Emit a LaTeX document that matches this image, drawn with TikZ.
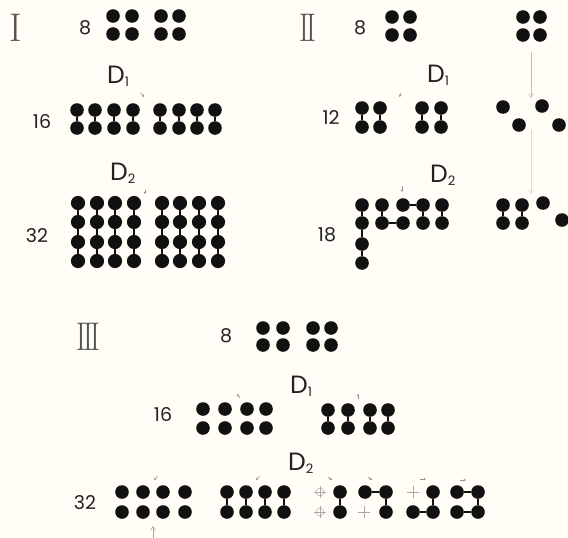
\documentclass[tikz,border=0pt]{standalone}
\usepackage{fontspec}
\newfontfamily\pop{Poppins}
\usetikzlibrary{arrows.meta}
\definecolor{bg}{HTML}{FFFDF6}
\definecolor{ink}{HTML}{111111}
\definecolor{txt}{HTML}{222222}
\definecolor{rom}{HTML}{555555}
\definecolor{faint}{HTML}{A8A8A8}
\tikzset{
 dot/.style={circle,fill=ink,inner sep=0pt,minimum size=13.6pt},
 link/.style={draw=ink,line width=1.6pt},
 num/.style={font=\pop\fontsize{19}{19}\selectfont,text=txt,inner sep=0pt},
 dlab/.style={font=\pop\fontsize{25}{25}\selectfont,text=txt,inner sep=0pt,anchor=base west},
 rnum/.style={font=\fontsize{40}{40}\selectfont,text=rom,inner sep=0pt},
 tk/.style={draw=gray!85,line width=0.6pt,-{Stealth[length=2.5pt,width=2.5pt]}},
 flow/.style={draw=gray!50,line width=0.6pt,-{Straight Barb[length=4pt,width=5pt]}},
 ghost/.style={circle,draw=faint,line width=0.5pt,inner sep=0pt,minimum size=8pt},
 ghostline/.style={draw=faint,line width=0.5pt},
}
\newcommand{\Dlab}[1]{D\raisebox{-3pt}{\fontsize{13}{13}\selectfont#1}}
\begin{document}
\begin{tikzpicture}[x={(1pt,0)},y={(0,-1pt)}]
\fill[bg] (0,0) rectangle (568,538);
\useasboundingbox (0,0) rectangle (568,538);

% ---------------- Part I ----------------
\node[rnum] (romI) at (16,28) {\scalebox{0.95}[1]{I}};
\node[num] (nI8) at (85,28) {8};
\foreach \x [count=\i] in {113,132,161,179}{
  \node[dot] (Ia\i) at (\x,16) {};
  \node[dot] (Ib\i) at (\x,34) {};
}
\node[dlab] (dI1) at (107,83) {\Dlab{1}};
\coordinate (tI1s) at (140.5,92.5); \coordinate (tI1e) at (144,97);
\draw[tk] (tI1s) -- (tI1e);
\node[num] (nI16) at (42,122) {16};
\foreach \x [count=\i] in {77,95,114,133,160,179,197,215}{
  \node[dot] (Ic\i) at (\x,110) {};
  \node[dot] (Id\i) at (\x,128) {};
  \draw[link] (Ic\i) -- (Id\i);
}
\node[dlab] (dI2) at (110,180) {\Dlab{2}};
\coordinate (tI2s) at (145,190); \coordinate (tI2e) at (145,194);
\draw[tk] (tI2s) -- (tI2e);
\node[num] (nI32) at (37,236) {32};
\foreach \x [count=\i] in {78,97,115,134,162,180,199,218}{
  \node[dot,minimum size=14.2pt] (Ie\i) at (\x,203) {};
  \node[dot,minimum size=14.2pt] (If\i) at (\x,222) {};
  \node[dot,minimum size=14.2pt] (Ig\i) at (\x,242) {};
  \node[dot,minimum size=14.2pt] (Ih\i) at (\x,261) {};
  \draw[link] (Ie\i) -- (If\i) (If\i) -- (Ig\i) (Ig\i) -- (Ih\i);
}

% ---------------- Part II ----------------
\node[rnum] (romII) at (308,28) {\scalebox{0.75}[1]{I\kern-3.7pt I}};
\node[num] (nII8) at (360,28) {8};
\foreach \x [count=\i] in {392,410}{
  \node[dot] (IIa\i) at (\x,17) {};
  \node[dot] (IIb\i) at (\x,35) {};
}
\foreach \x [count=\i] in {523,540}{
  \node[dot] (IIra\i) at (\x,17) {};
  \node[dot] (IIrb\i) at (\x,35) {};
}
\node[dlab] (dII1) at (427,82) {\Dlab{1}};
\coordinate (tII1s) at (401,93); \coordinate (tII1e) at (399.5,97);
\draw[tk] (tII1s) -- (tII1e);
\coordinate (fII1s) at (531,52); \coordinate (fII1e) at (531,98);
\draw[flow] (fII1s) -- (fII1e);
\node[num] (nII12) at (331,118) {12};
\foreach \x [count=\i] in {362,380,422,441}{
  \node[dot] (IIc\i) at (\x,108) {};
  \node[dot] (IId\i) at (\x,127) {};
  \draw[link] (IIc\i) -- (IId\i);
}
\node[dot] (IIz1) at (503,107) {};
\node[dot] (IIz2) at (519,125) {};
\node[dot] (IIz3) at (542,106) {};
\node[dot] (IIz4) at (559,125) {};
\node[dlab] (dII2) at (430,182) {\Dlab{2}};
\coordinate (tII2s) at (402,186); \coordinate (tII2e) at (402,192);
\draw[tk] (tII2s) -- (tII2e);
\coordinate (fII2s) at (531,130); \coordinate (fII2e) at (531,194);
\draw[flow,draw=gray!30] (fII2s) -- (fII2e);
\node[num] (nII18) at (327,235) {18};
\foreach \x [count=\i] in {362,382,403,423,442}{
  \node[dot] (IIe\i) at (\x,205) {};
  \node[dot] (IIf\i) at (\x,223) {};
}
\node[dot] (IIg1) at (362,244) {};
\node[dot] (IIh1) at (362,263) {};
\draw[link] (IIe1) -- (IIf1) (IIf1) -- (IIg1) (IIg1) -- (IIh1);
\draw[link] (IIe2) -- (IIf2) (IIf2) -- (IIf3);
\draw[link] (IIe3) -- (IIe4) (IIe4) -- (IIf4);
\draw[link] (IIe5) -- (IIf5);
\node[dot] (IIk1) at (503,205) {};
\node[dot] (IIk2) at (522,205) {};
\node[dot] (IIk3) at (543,203) {};
\node[dot] (IIl1) at (503,223) {};
\node[dot] (IIl2) at (522,223) {};
\node[dot] (IIl3) at (562,220) {};
\draw[link] (IIk1) -- (IIl1) (IIk2) -- (IIl2);

% ---------------- Part III ----------------
\node[rnum] (romIII) at (88,337) {\scalebox{0.75}[1]{I\kern-3.7pt I\kern-3.7pt I}};
\node[num] (nIII8) at (226,336) {8};
\foreach \x [count=\i] in {263,283,313,331}{
  \node[dot] (IIIa\i) at (\x,328) {};
  \node[dot] (IIIb\i) at (\x,345) {};
}
\node[dlab] (dIII1) at (290,393) {\Dlab{1}};
\coordinate (tIII1s) at (240,398); \coordinate (tIII1e) at (237,394);
\draw[tk] (tIII1s) -- (tIII1e);
\coordinate (tIII2s) at (358,399); \coordinate (tIII2e) at (358,394);
\draw[tk] (tIII2s) -- (tIII2e);
\node[num] (nIII16) at (163,415) {16};
\foreach \x [count=\i] in {203,225,247,266}{
  \node[dot] (IIIc\i) at (\x,409) {};
  \node[dot] (IIId\i) at (\x,428) {};
}
\foreach \x [count=\i] in {328,348,370,388}{
  \node[dot] (IIIe\i) at (\x,410) {};
  \node[dot] (IIIf\i) at (\x,428) {};
  \draw[link] (IIIe\i) -- (IIIf\i);
}
\node[dlab] (dIII2) at (288,470) {\Dlab{2}};
\node[num] (nIII32) at (85,503) {32};
% ticks above 32 row
\coordinate (t3as) at (158,476); \coordinate (t3ae) at (154,480);
\draw[tk] (t3as) -- (t3ae);
\coordinate (t3bs) at (260,476); \coordinate (t3be) at (256,480);
\draw[tk] (t3bs) -- (t3be);
\coordinate (t3cs) at (328,477); \coordinate (t3ce) at (332,480);
\draw[tk] (t3cs) -- (t3ce);
\coordinate (t3ds) at (368,477); \coordinate (t3de) at (372,480);
\draw[tk] (t3ds) -- (t3de);
\coordinate (t3es) at (420,479); \coordinate (t3ee) at (426,479);
\draw[tk] (t3es) -- (t3ee);
\coordinate (t3fs) at (460,480); \coordinate (t3fe) at (466,480);
\draw[tk] (t3fs) -- (t3fe);
% group 1
\foreach \x [count=\i] in {122,143,163,185}{
  \node[dot] (Pa\i) at (\x,492) {};
  \node[dot] (Pb\i) at (\x,512) {};
}
% group 2
\foreach \x [count=\i] in {227,246,265,284}{
  \node[dot] (Qa\i) at (\x,492) {};
  \node[dot] (Qb\i) at (\x,512) {};
  \draw[link] (Qa\i) -- (Qb\i);
}
% group 3
\node[ghost] (Ra1) at (320,492) {};
\node[ghost] (Rb1) at (320,512) {};
\node[dot] (Ra2) at (340,492) {};
\node[dot] (Rb2) at (340,512) {};
\draw[link] (Ra2) -- (Rb2);
% group 4
\node[dot] (Sa1) at (365,492) {};
\node[dot] (Sa2) at (386,492) {};
\node[ghost,draw=none] (Sb1) at (364,512) {};
\node[dot] (Sb2) at (386,512) {};
\draw[link] (Sa1) -- (Sa2) (Sa2) -- (Sb2);
% group 5
\node[ghost,draw=none] (Ta1) at (413,492) {};
\node[dot] (Ta2) at (433,492) {};
\node[dot] (Tb1) at (413,512) {};
\node[dot] (Tb2) at (433,512) {};
\draw[link] (Ta2) -- (Tb2) (Tb1) -- (Tb2);
% group 6
\node[dot] (Ua1) at (457,492) {};
\node[dot] (Ua2) at (478,492) {};
\node[dot] (Ub1) at (457,512) {};
\node[dot] (Ub2) at (478,512) {};
\draw[link] (Ua1) -- (Ua2) (Ua2) -- (Ub2) (Ub1) -- (Ub2);
% faint crosses
\foreach \g in {Ra1,Rb1,Sb1,Ta1}{
  \draw[ghostline] ([yshift=2pt]\g.north) -- ([yshift=-2pt]\g.south);
  \draw[ghostline] ([xshift=-2pt]\g.west) -- ([xshift=2pt]\g.east);
}
% upward arrow at bottom
\coordinate (upS) at (153,540); \coordinate (upE) at (153,526);
\draw[flow,draw=gray!70] (upS) -- (upE);
\end{tikzpicture}
\end{document}
